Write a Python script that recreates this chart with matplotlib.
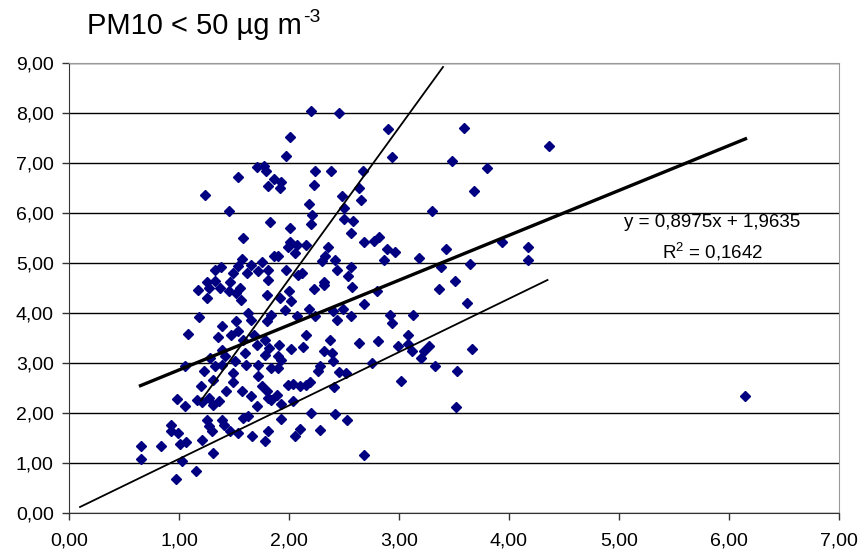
import matplotlib
matplotlib.use("Agg")
import matplotlib.pyplot as plt
from matplotlib.ticker import FuncFormatter, MultipleLocator

plt.rcParams["font.family"] = ["Liberation Sans", "DejaVu Sans"]
plt.rcParams["mathtext.fontset"] = "custom"
plt.rcParams["mathtext.rm"] = "Liberation Sans"
plt.rcParams["mathtext.it"] = "Liberation Sans"

# scatter points
x_vals = [
    2.20, 2.45, 2.01, 1.97, 2.90, 2.94, 2.24, 2.38, 2.67, 1.93, 1.92, 2.23, 2.64, 2.48,
    2.65, 2.18, 2.21, 2.20, 2.01, 2.50, 2.58, 2.56, 2.01, 2.07, 2.15, 1.99, 2.05, 1.90,
    2.35, 2.33, 2.30, 2.42, 2.44, 2.56, 2.54, 2.68, 2.77, 2.82, 2.89, 2.96, 2.86, 3.18,
    1.97, 2.08, 2.12, 2.32, 2.50,
    1.24, 1.54, 1.71, 1.77, 1.79, 1.86, 1.81, 1.45, 1.83, 1.58, 1.57, 1.33, 1.38, 1.49,
    1.54, 1.65, 1.62, 1.75, 1.72, 1.81, 1.81, 1.86, 1.25, 1.33, 1.46,
    1.17, 1.25, 1.27, 1.37, 1.45, 1.52, 1.56, 1.55, 1.80, 1.18, 1.39, 1.52, 1.63, 1.65,
    1.80, 1.84, 1.08, 1.35, 1.47, 1.54, 1.58, 1.68, 1.71, 1.78, 1.82, 1.39, 1.28, 1.05,
    1.23, 1.33, 1.39, 1.51, 1.61, 1.49, 1.72, 1.75, 1.80, 1.84, 1.20, 1.43, 0.98, 1.05,
    1.16, 1.21, 1.27, 1.31, 1.36, 1.65, 1.71, 1.81, 1.25, 1.27, 1.30, 1.39, 1.41, 1.46,
    1.54, 1.58, 1.63, 1.66, 1.81, 1.78, 0.93, 0.93, 0.99, 1.01, 1.06, 1.21, 0.84, 0.65,
    0.65, 1.03, 1.31, 1.15, 0.97, 1.72, 1.60, 1.78, 1.84, 1.42, 1.31, 1.49, 1.57,
    2.00, 2.23, 2.32, 2.57, 2.80, 1.92, 2.02, 1.96, 2.18, 2.68, 2.49, 2.07, 2.24, 2.40,
    2.44, 2.56, 2.92, 2.94, 3.13, 2.15, 2.37, 2.13, 2.02, 1.91, 2.32, 2.39, 2.40, 2.64,
    2.81, 2.99, 3.08, 3.08, 3.12, 3.20, 1.90, 1.93, 1.90, 2.28, 2.26, 2.45, 2.52, 2.75,
    1.99, 2.04, 2.10, 2.15, 2.19, 2.41, 3.02, 1.89, 1.93, 2.04, 1.93, 2.20, 2.42, 2.53,
    2.10, 2.05, 2.28, 2.68,
    3.59, 4.36, 3.48, 3.80, 3.68, 3.30, 3.94, 4.17, 4.17, 3.43, 3.38, 3.65, 3.51,
    3.36, 3.62, 3.27, 3.23, 3.66, 3.33, 3.53, 3.52, 6.15,
]
y_vals = [
    8.04, 8.00, 7.51, 7.14, 7.67, 7.11, 6.83, 6.83, 6.84, 6.62, 6.49, 6.55, 6.49, 6.34,
    6.25, 6.18, 5.96, 5.78, 5.69, 5.87, 5.84, 5.59, 5.41, 5.36, 5.36, 5.31, 5.19, 5.14,
    5.31, 5.13, 5.03, 5.06, 4.85, 4.91, 4.73, 5.41, 5.44, 5.51, 5.27, 5.21, 5.06, 5.09,
    4.86, 4.76, 4.79, 4.61, 6.10,
    6.36, 6.71, 6.91, 6.94, 6.83, 6.67, 6.53, 6.03, 5.81, 5.49, 5.07, 4.86, 4.91, 4.79,
    4.93, 4.96, 4.79, 5.01, 4.83, 4.85, 4.66, 5.13, 4.61, 4.63, 4.61,
    4.46, 4.29, 4.50, 4.49, 4.43, 4.39, 4.26, 4.49, 4.36, 3.91, 3.73, 3.83, 3.99, 3.86,
    3.83, 3.96, 3.57, 3.51, 3.56, 3.63, 3.46, 3.56, 3.36, 3.46, 3.29, 3.26, 3.09, 2.94,
    2.83, 2.93, 2.96, 3.03, 2.96, 2.79, 2.73, 2.53, 2.43, 2.26, 2.53, 2.43, 2.28, 2.13,
    2.26, 2.21, 2.29, 2.16, 2.23, 2.33, 2.13, 2.29, 1.86, 1.73, 1.63, 1.86, 1.76, 1.63,
    1.59, 1.89, 1.93, 1.53, 1.63, 1.43, 1.76, 1.63, 1.59, 1.38, 1.41, 1.45, 1.34, 1.34,
    1.08, 1.04, 1.19, 0.83, 0.67, 2.96, 3.19, 3.16, 2.89, 3.13, 2.66, 2.62, 2.43,
    4.44, 4.48, 4.56, 4.51, 4.44, 4.29, 4.23, 4.06, 4.08, 4.17, 4.08, 3.93, 3.93, 4.03,
    3.86, 3.93, 3.96, 3.79, 3.95, 3.55, 3.46, 3.31, 3.28, 3.36, 3.24, 3.19, 3.04, 3.39,
    3.43, 3.34, 3.55, 3.37, 3.24, 3.09, 3.13, 3.06, 2.89, 2.93, 2.83, 2.81, 2.79, 2.99,
    2.56, 2.57, 2.53, 2.56, 2.61, 2.51, 2.64, 2.36, 2.17, 2.24, 1.88, 1.99, 1.97, 1.86,
    1.68, 1.53, 1.66, 1.16,
    7.69, 7.33, 7.03, 6.89, 6.43, 6.03, 5.41, 5.31, 5.06, 5.27, 4.91, 4.98, 4.63,
    4.48, 4.19, 3.33, 3.23, 3.27, 2.93, 2.83, 2.11, 2.33,
]

# trend line (Excel linear fit) and the two hand-drawn guide lines
slope, intercept, r2 = 0.8975, 1.9635, 0.1642
trend_x = [0.65, 6.15]
steep_x = [1.20, 3.40]
steep_y = [2.25, 8.92]
low_x = [0.10, 4.35]
low_y = [0.12, 4.66]


def comma(v, _pos):
    return f"{v:.2f}".replace(".", ",")


fig = plt.figure(figsize=(8.66, 5.55), dpi=100)
ax = fig.add_axes([0.0797, 0.0757, 0.8891, 0.8108])

ax.set_xlim(0, 7)
ax.set_ylim(0, 9)
ax.xaxis.set_major_locator(MultipleLocator(1))
ax.yaxis.set_major_locator(MultipleLocator(1))
ax.xaxis.set_major_formatter(FuncFormatter(comma))
ax.yaxis.set_major_formatter(FuncFormatter(comma))
ax.tick_params(labelsize=14, direction="out", length=5, width=1, color="#333333", pad=6)
ax.tick_params(axis="x", pad=9)

ax.grid(axis="y", color="black", lw=1)
ax.set_axisbelow(True)
for side in ["left", "bottom"]:
    ax.spines[side].set_color("#333333")
for side in ["top", "right"]:
    ax.spines[side].set_color("#999999")

ax.plot(x_vals, y_vals, ls="none", marker="D", ms=5.3, color="#000080",
        mec="#000080", zorder=3)

trend_y = [slope * v + intercept for v in trend_x]
ax.plot(trend_x, trend_y, color="black", lw=2.4, zorder=4)
ax.plot(steep_x, steep_y, color="black", lw=1.3, zorder=4)
ax.plot(low_x, low_y, color="black", lw=1.3, zorder=4)

eq = f"y = {slope:.4f}x + {intercept:.4f}".replace(".", ",")
r2_txt = f"R$^2$ = {r2:.4f}".replace(".", ",")
ax.text(5.85, 5.80, eq, ha="center", va="center", fontsize=13.5)
ax.text(5.85, 5.22, r2_txt, ha="center", va="center", fontsize=13.5)

# title with a hyphen superscript, as in the original
title = fig.text(0.1005, 0.939, "PM10 < 50 µg m", fontsize=21, va="baseline")
fig.canvas.draw()
bb = title.get_window_extent()
fig.text(bb.x1 / fig.bbox.width + 0.001, 0.939 + 0.022, "-3", fontsize=14,
         va="baseline")

fig.savefig("out.png", dpi=100)
